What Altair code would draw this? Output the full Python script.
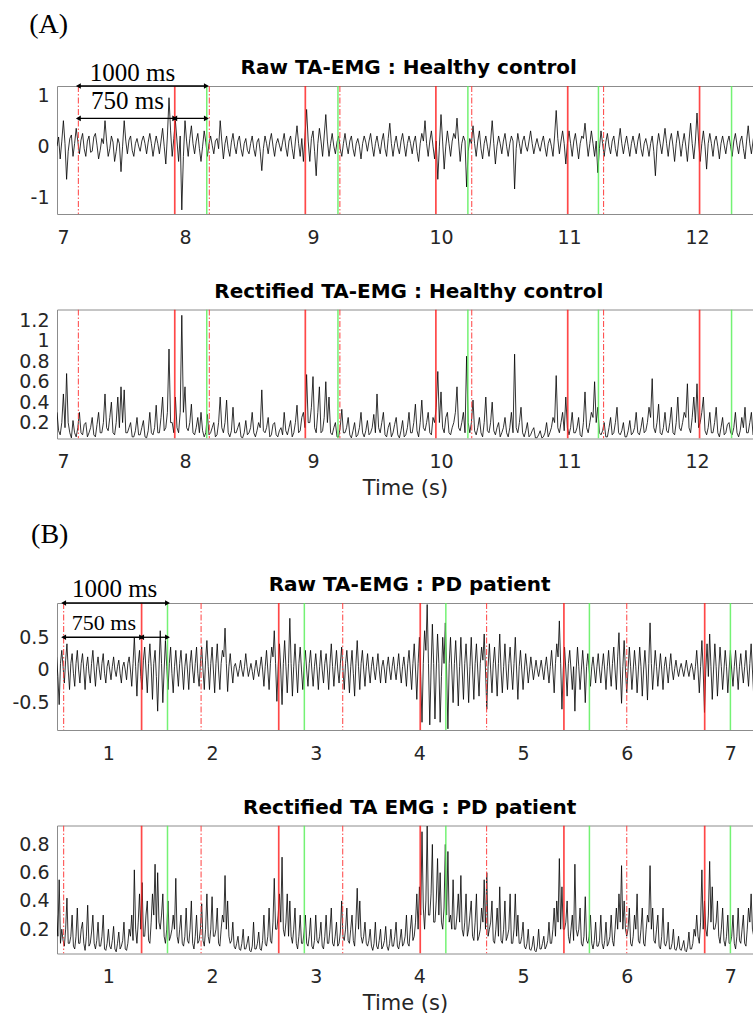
import altair as alt
import pandas as pd

# ---------------- data ----------------
# (A) healthy control, one value every 12.5 ms from 7.0 s
A_T0, A_DT = 7.0, 0.0125
A_RAW = [
    0.0, 0.18, -0.25, 0.1, 0.5, 0.05, -0.65, -0.1, 0.15, 0.22, -0.2, 0.05, 0.35, 0.1, -0.15, 0.12, 0.25, -0.05, -0.2, 0.1,
    0.2, -0.12, -0.1, 0.18, 0.25, 0.02, -0.25, -0.08, 0.15, 0.05, 0.5, 0.1, -0.2, -0.05, 0.2, 0.08, -0.3, -0.1, 0.15, 0.05,
    -0.5, 0.0, 0.5, 0.1, -0.15, 0.12, 0.2, -0.08, -0.2, 0.05, 0.15, 0.0, -0.1, 0.1, 0.2, 0.05, -0.15, 0.08, 0.25, 0.05,
    -0.2, 0.02, 0.2, 0.05, -0.15, 0.1, 0.35, 0.0, -0.35, 0.2, 0.95, 0.3, -0.2, 0.15, 0.5, 0.1, -0.3, 0.2, -1.25, -0.2,
    0.5, 0.1, -0.2, 0.15, 0.4, 0.05, -0.15, 0.1, 0.25, -0.05, -0.3, 0.0, 0.3, 0.08, -0.2, 0.05, 0.2, 0.02, -0.15, 0.1,
    0.15, -0.05, 0.5, 0.1, -0.25, 0.05, 0.2, -0.05, -0.2, 0.08, 0.25, 0.0, -0.15, 0.1, 0.2, -0.05, -0.2, 0.05, 0.15, -0.08,
    -0.15, 0.05, 0.2, -0.05, -0.2, 0.08, 0.15, -0.1, -0.48, -0.05, 0.2, 0.05, -0.15, 0.1, 0.25, 0.0, -0.2, 0.05, 0.15, 0.02,
    -0.1, 0.08, 0.25, -0.02, -0.2, 0.1, 0.2, -0.05, -0.25, 0.1, 0.4, 0.05, -0.2, 0.15, -0.3, 0.2, 0.72, 0.1, -0.3, 0.15,
    0.3, -0.1, -0.58, 0.05, 0.35, 0.1, -0.2, 0.2, 0.62, 0.1, -0.2, 0.05, 0.25, 0.0, -0.15, 0.08, 0.2, -0.05, -0.2, 0.05,
    0.25, 0.02, -0.15, 0.1, 0.2, -0.05, -0.2, 0.05, 0.15, 0.0, -0.25, 0.05, 0.2, 0.08, -0.1, 0.1, 0.25, 0.0, -0.2, 0.05,
    0.2, 0.0, -0.15, 0.1, 0.25, -0.05, -0.2, 0.15, 0.45, 0.05, -0.2, 0.05, 0.2, -0.02, -0.15, 0.1, 0.25, 0.02, -0.2, 0.05,
    0.2, 0.05, -0.15, 0.08, 0.2, -0.1, -0.3, 0.05, 0.25, 0.1, 0.5, 0.05, -0.2, 0.1, 0.3, 0.0, -0.25, 0.1, -0.65, 0.0,
    0.62, 0.1, -0.45, 0.0, 0.3, 0.05, -0.2, 0.1, 0.25, 0.15, 0.55, 0.1, -0.3, 0.05, 0.2, 0.1, -0.8, -0.1, 0.15, 0.05,
    0.4, 0.05, -0.2, 0.1, 0.3, -0.05, -0.25, 0.05, 0.2, 0.0, -0.2, 0.1, 0.5, 0.05, -0.35, 0.0, 0.2, 0.05, -0.15, 0.1,
    0.25, 0.0, -0.2, 0.05, 0.2, 0.1, -0.84, -0.05, 0.25, 0.05, -0.15, 0.1, 0.2, 0.0, -0.1, 0.1, 0.3, 0.05, -0.15, 0.02,
    0.15, 0.0, -0.1, 0.08, 0.2, -0.02, -0.2, 0.05, 0.15, 0.0, -0.2, 0.2, 0.7, 0.15, -0.15, 0.1, 0.3, 0.05, -0.35, 0.05,
    0.3, 0.05, -0.2, 0.1, 0.25, 0.0, -0.25, 0.05, 0.2, 0.15, 0.45, 0.1, -0.2, 0.05, 0.3, 0.05, -0.2, 0.1, -0.52, -0.05,
    0.3, 0.05, -0.2, 0.08, 0.25, 0.0, -0.15, 0.1, 0.2, -0.05, -0.2, 0.1, 0.35, 0.05, -0.15, 0.05, 0.2, 0.0, -0.2, 0.05,
    0.2, 0.02, -0.15, 0.1, 0.25, -0.05, -0.2, 0.05, 0.15, 0.0, -0.2, 0.05, 0.2, -0.1, -0.58, 0.0, 0.25, 0.05, -0.15, 0.1,
    0.35, 0.05, -0.2, 0.1, 0.25, 0.0, -0.3, 0.05, 0.3, 0.1, -0.2, 0.05, 0.25, 0.0, -0.3, 0.1, 0.45, 0.05, -0.25, 0.1,
    0.65, 0.1, -0.3, 0.05, 0.3, 0.0, -0.45, 0.05, 0.25, 0.05, -0.2, 0.1, 0.2, 0.0, -0.25, 0.05, 0.2, 0.02, -0.15, 0.08,
    0.2, 0.0, -0.2, 0.1, 0.25, 0.02, -0.15, 0.1, 0.2, -0.05, -0.25, 0.1, 0.4, 0.05, -0.15, 0.1, 0.3, 0.0, -0.2, 0.05,
    0.15,
]
A_RECT = [
    0.3, 0.12, 0.08, 0.2, 0.48, 0.15, 0.68, 0.2, 0.1, 0.05, 0.22, 0.1, 0.06, 0.15, 0.3, 0.1, 0.08, 0.18, 0.2, 0.06,
    0.1, 0.15, 0.25, 0.08, 0.06, 0.18, 0.3, 0.1, 0.1, 0.2, 0.48, 0.15, 0.12, 0.25, 0.4, 0.1, 0.08, 0.2, 0.45, 0.15,
    0.55, 0.2, 0.52, 0.1, 0.1, 0.15, 0.2, 0.06, 0.06, 0.12, 0.25, 0.08, 0.08, 0.15, 0.22, 0.06, 0.05, 0.12, 0.3, 0.1,
    0.08, 0.15, 0.37, 0.1, 0.1, 0.25, 0.45, 0.12, 0.15, 0.3, 0.92, 0.2, 0.2, 0.1, 0.45, 0.15, 0.1, 0.3, 1.25, 0.3,
    0.55, 0.15, 0.12, 0.2, 0.38, 0.1, 0.08, 0.15, 0.25, 0.1, 0.3, 0.12, 0.06, 0.1, 0.28, 0.08, 0.1, 0.15, 0.2, 0.06,
    0.08, 0.2, 0.45, 0.15, 0.1, 0.2, 0.42, 0.1, 0.06, 0.12, 0.35, 0.1, 0.1, 0.15, 0.2, 0.06, 0.05, 0.1, 0.22, 0.08,
    0.1, 0.15, 0.3, 0.1, 0.06, 0.12, 0.2, 0.15, 0.52, 0.12, 0.1, 0.15, 0.25, 0.06, 0.08, 0.18, 0.2, 0.08, 0.06, 0.12,
    0.15, 0.08, 0.3, 0.12, 0.08, 0.15, 0.22, 0.06, 0.1, 0.2, 0.37, 0.1, 0.12, 0.25, 0.3, 0.15, 0.67, 0.2, 0.2, 0.35,
    0.65, 0.15, 0.1, 0.3, 0.55, 0.1, 0.12, 0.25, 0.6, 0.2, 0.45, 0.1, 0.08, 0.15, 0.2, 0.06, 0.06, 0.15, 0.33, 0.1,
    0.1, 0.15, 0.25, 0.08, 0.05, 0.12, 0.2, 0.06, 0.08, 0.15, 0.3, 0.1, 0.06, 0.12, 0.22, 0.08, 0.1, 0.15, 0.28, 0.1,
    0.48, 0.15, 0.1, 0.2, 0.3, 0.08, 0.06, 0.15, 0.2, 0.06, 0.1, 0.18, 0.25, 0.08, 0.05, 0.12, 0.22, 0.06, 0.08, 0.15,
    0.3, 0.1, 0.1, 0.2, 0.38, 0.12, 0.06, 0.2, 0.42, 0.15, 0.12, 0.2, 0.3, 0.1, 0.08, 0.25, 0.2, 0.35, 0.7, 0.2,
    0.5, 0.15, 0.1, 0.25, 0.3, 0.1, 0.08, 0.15, 0.2, 0.3, 0.55, 0.15, 0.12, 0.2, 0.3, 0.1, 0.85, 0.2, 0.1, 0.2,
    0.42, 0.12, 0.08, 0.15, 0.25, 0.1, 0.06, 0.2, 0.45, 0.12, 0.1, 0.2, 0.4, 0.12, 0.08, 0.15, 0.2, 0.06, 0.1, 0.15,
    0.25, 0.1, 0.06, 0.15, 0.3, 0.1, 0.87, 0.15, 0.1, 0.2, 0.35, 0.1, 0.06, 0.12, 0.2, 0.06, 0.08, 0.12, 0.15, 0.05,
    0.05, 0.08, 0.12, 0.05, 0.06, 0.1, 0.2, 0.06, 0.1, 0.15, 0.25, 0.2, 0.66, 0.15, 0.1, 0.2, 0.3, 0.12, 0.45, 0.15,
    0.08, 0.15, 0.3, 0.1, 0.1, 0.15, 0.25, 0.08, 0.06, 0.2, 0.5, 0.15, 0.1, 0.2, 0.3, 0.25, 0.6, 0.2, 0.35, 0.1,
    0.08, 0.12, 0.2, 0.06, 0.06, 0.15, 0.25, 0.08, 0.1, 0.2, 0.35, 0.1, 0.08, 0.12, 0.2, 0.06, 0.06, 0.12, 0.22, 0.08,
    0.1, 0.15, 0.3, 0.1, 0.08, 0.15, 0.25, 0.1, 0.12, 0.2, 0.35, 0.25, 0.63, 0.15, 0.1, 0.2, 0.38, 0.1, 0.08, 0.15,
    0.3, 0.12, 0.1, 0.2, 0.35, 0.1, 0.08, 0.2, 0.45, 0.15, 0.12, 0.2, 0.3, 0.25, 0.58, 0.15, 0.1, 0.25, 0.45, 0.2,
    0.58, 0.15, 0.2, 0.3, 0.45, 0.12, 0.08, 0.15, 0.3, 0.1, 0.1, 0.2, 0.35, 0.1, 0.06, 0.15, 0.25, 0.08, 0.1, 0.18,
    0.2, 0.1, 0.08, 0.15, 0.3, 0.1, 0.06, 0.12, 0.25, 0.15, 0.35, 0.1, 0.1, 0.2, 0.3, 0.08, 0.06, 0.12, 0.2, 0.1,
    0.12,
]

# (B) PD patient, one value every 12.5 ms from 0.5 s
B_T0, B_DT = 0.5, 0.0125
B_RAW = [
    0.2, -0.1, -0.53, 0.1, 0.3, 0.05, -0.2, 0.15, 0.4, 0.0, -0.3, 0.1, 0.25, -0.05, -0.25, 0.1, 0.3, 0.0, -0.2, 0.1,
    0.25, 0.0, -0.3, 0.05, 0.2, -0.05, -0.2, 0.1, 0.3, 0.0, -0.25, 0.05, 0.2, 0.0, -0.15, 0.1, 0.25, -0.05, -0.2, 0.05,
    0.15, 0.0, -0.15, 0.05, 0.2, 0.0, -0.1, 0.05, 0.15, -0.05, -0.2, 0.05, 0.12, 0.0, -0.15, 0.1, 0.2, 0.0, -0.25, 0.1,
    0.5, 0.05, -0.4, 0.1, 0.3, -0.1, -0.3, 0.15, 0.35, 0.0, -0.35, 0.1, 0.4, 0.05, -0.45, 0.1, 0.3, -0.1, -0.63, 0.0,
    0.6, 0.1, -0.5, 0.0, 0.45, 0.05, -0.3, 0.1, 0.35, -0.05, -0.35, 0.05, 0.3, 0.0, -0.25, 0.1, 0.3, 0.0, -0.3, 0.05,
    0.25, 0.0, -0.3, 0.1, 0.3, 0.0, -0.2, 0.1, 0.35, -0.05, -0.25, 0.1, 0.35, 0.0, -0.3, 0.15, 0.45, 0.05, -0.3, 0.1,
    0.35, 0.0, -0.35, 0.1, 0.4, 0.0, -0.3, 0.1, 0.3, 0.2, 0.64, 0.1, -0.33, 0.05, 0.25, 0.0, -0.2, 0.05, 0.1, 0.0,
    -0.1, 0.02, 0.15, 0.0, -0.1, 0.05, 0.25, 0.05, -0.1, 0.0, 0.1, -0.02, -0.15, 0.02, 0.15, 0.0, -0.1, 0.05, 0.2, 0.0,
    -0.25, 0.05, 0.3, 0.0, -0.3, 0.1, 0.35, 0.2, 0.6, 0.1, -0.48, 0.05, 0.4, 0.0, -0.53, 0.1, 0.45, 0.05, -0.35, 0.1,
    0.79, 0.1, -0.4, 0.05, 0.4, 0.0, -0.35, 0.1, 0.35, 0.0, -0.3, 0.05, 0.3, 0.0, -0.25, 0.1, 0.3, 0.0, -0.25, 0.05,
    0.25, 0.0, -0.3, 0.05, 0.3, 0.0, -0.2, 0.1, 0.25, 0.0, -0.3, 0.1, 0.4, 0.05, -0.25, 0.05, 0.3, 0.0, -0.2, 0.1,
    0.35, 0.0, -0.3, 0.1, 0.3, 0.0, -0.35, 0.05, 0.3, -0.05, -0.4, 0.1, 0.45, 0.05, -0.3, 0.1, 0.3, 0.0, -0.25, 0.05,
    0.25, 0.0, -0.2, 0.05, 0.2, 0.0, -0.15, 0.05, 0.25, 0.0, -0.2, 0.05, 0.15, 0.0, -0.2, 0.05, 0.2, 0.0, -0.15, 0.05,
    0.2, 0.0, -0.15, 0.05, 0.25, 0.0, -0.2, 0.05, 0.2, 0.0, -0.25, 0.1, 0.3, 0.0, -0.3, 0.1, 0.4, 0.0, -0.45, 0.1,
    0.5, -0.1, -0.8, 0.1, 0.6, 0.3, 1.0, 0.1, -0.84, 0.0, 0.7, 0.1, -0.75, 0.0, 0.55, 0.1, -0.8, -0.1, 0.5, 0.1,
    0.72, 0.0, -0.9, 0.1, 0.5, 0.0, -0.5, 0.1, 0.45, 0.0, -0.55, 0.05, 0.5, 0.0, -0.45, 0.1, 0.4, 0.0, -0.5, 0.05,
    0.5, 0.0, -0.45, 0.1, 0.4, 0.0, -0.4, 0.1, 0.35, 0.15, 0.55, 0.0, -0.6, 0.05, 0.4, 0.0, -0.35, 0.1, 0.35, 0.0,
    -0.4, 0.1, 0.55, 0.0, -0.35, 0.05, 0.4, 0.0, -0.3, 0.1, 0.35, 0.0, -0.3, 0.1, 0.5, 0.0, -0.45, 0.05, 0.3, 0.0,
    -0.3, 0.0, 0.25, 0.05, -0.2, 0.0, 0.2, 0.02, -0.15, 0.0, 0.15, 0.0, -0.1, 0.02, 0.15, 0.0, -0.15, 0.05, 0.2, 0.0,
    -0.2, 0.05, 0.3, 0.0, -0.35, 0.1, 0.4, 0.2, 0.75, 0.1, -0.6, 0.0, 0.35, 0.0, -0.4, 0.1, 0.3, 0.0, -0.3, 0.05,
    -0.63, 0.0, 0.35, 0.05, -0.3, 0.0, 0.3, 0.0, -0.5, 0.05, 0.25, 0.0, -0.25, 0.05, 0.2, 0.0, -0.2, 0.05, 0.25, 0.0,
    -0.2, 0.05, 0.25, 0.0, -0.3, 0.05, 0.3, 0.0, -0.25, 0.1, 0.35, 0.0, -0.3, 0.2, 0.57, 0.0, -0.51, 0.05, 0.45, 0.0,
    -0.35, 0.0, 0.35, 0.05, -0.3, 0.0, 0.3, 0.05, -0.35, 0.0, 0.35, 0.05, -0.4, 0.0, 0.3, 0.0, -0.46, 0.1, 0.72, 0.1,
    -0.3, 0.0, 0.3, 0.05, -0.25, 0.0, 0.25, 0.0, -0.3, 0.05, 0.2, 0.0, -0.2, 0.05, 0.25, 0.0, -0.15, 0.02, 0.15, 0.0,
    -0.1, 0.02, 0.1, 0.0, -0.1, 0.02, 0.15, 0.0, -0.1, 0.02, 0.1, 0.0, -0.15, 0.05, 0.3, 0.0, -0.35, 0.05, 0.45, 0.0,
    -0.65, 0.0, 0.4, -0.1, 0.55, 0.05, -0.45, 0.0, 0.4, 0.05, -0.4, 0.0, 0.35, 0.05, -0.3, 0.0, 0.3, 0.05, -0.35, 0.0,
    0.3, 0.0, -0.25, 0.05, 0.3, 0.0, -0.3, 0.05, 0.25, 0.0, -0.2, 0.05, 0.3, 0.0, -0.25, 0.1, 0.4, 0.0, -0.4, 0.05,
    0.3, 0.05, -0.3, 0.1, 0.2,
]
B_RECT = [
    0.3, 0.15, 0.55, 0.1, 0.2, 0.12, 0.08, 0.2, 0.42, 0.1, 0.1, 0.15, 0.3, 0.08, 0.06, 0.15, 0.35, 0.1, 0.1, 0.2,
    0.25, 0.1, 0.05, 0.15, 0.37, 0.08, 0.1, 0.18, 0.3, 0.1, 0.06, 0.12, 0.25, 0.08, 0.08, 0.15, 0.3, 0.06, 0.05, 0.1,
    0.2, 0.08, 0.06, 0.12, 0.22, 0.06, 0.04, 0.1, 0.18, 0.06, 0.08, 0.12, 0.25, 0.06, 0.05, 0.1, 0.2, 0.15, 0.3, 0.12,
    0.62, 0.2, 0.1, 0.25, 0.45, 0.2, 0.53, 0.15, 0.15, 0.3, 0.4, 0.12, 0.1, 0.25, 0.45, 0.3, 0.66, 0.2, 0.6, 0.25,
    0.2, 0.3, 0.45, 0.15, 0.1, 0.2, 0.4, 0.12, 0.15, 0.2, 0.3, 0.2, 0.56, 0.15, 0.1, 0.2, 0.3, 0.1, 0.08, 0.15,
    0.35, 0.12, 0.1, 0.2, 0.4, 0.1, 0.06, 0.15, 0.3, 0.1, 0.12, 0.2, 0.38, 0.12, 0.08, 0.2, 0.45, 0.15, 0.1, 0.2,
    0.43, 0.15, 0.15, 0.2, 0.35, 0.1, 0.08, 0.2, 0.3, 0.25, 0.58, 0.2, 0.4, 0.15, 0.1, 0.12, 0.25, 0.08, 0.06, 0.1,
    0.15, 0.06, 0.05, 0.1, 0.2, 0.06, 0.06, 0.1, 0.15, 0.05, 0.04, 0.08, 0.25, 0.06, 0.06, 0.1, 0.18, 0.06, 0.05, 0.12,
    0.3, 0.1, 0.08, 0.15, 0.35, 0.12, 0.1, 0.25, 0.56, 0.2, 0.2, 0.3, 0.45, 0.25, 0.71, 0.2, 0.15, 0.25, 0.45, 0.15,
    0.4, 0.15, 0.1, 0.2, 0.35, 0.1, 0.06, 0.15, 0.3, 0.1, 0.1, 0.18, 0.3, 0.1, 0.08, 0.15, 0.28, 0.08, 0.06, 0.12,
    0.3, 0.12, 0.1, 0.15, 0.25, 0.08, 0.06, 0.15, 0.3, 0.1, 0.1, 0.2, 0.35, 0.1, 0.08, 0.15, 0.25, 0.08, 0.1, 0.18,
    0.4, 0.15, 0.12, 0.2, 0.35, 0.12, 0.1, 0.2, 0.3, 0.12, 0.08, 0.25, 0.49, 0.2, 0.4, 0.15, 0.1, 0.15, 0.25, 0.1,
    0.08, 0.12, 0.2, 0.08, 0.05, 0.1, 0.25, 0.08, 0.06, 0.12, 0.2, 0.06, 0.08, 0.12, 0.22, 0.08, 0.05, 0.1, 0.2, 0.08,
    0.08, 0.15, 0.25, 0.08, 0.06, 0.12, 0.2, 0.08, 0.1, 0.15, 0.3, 0.1, 0.08, 0.2, 0.3, 0.12, 0.15, 0.25, 0.45, 0.2,
    0.5, 0.3, 0.89, 0.35, 0.2, 0.4, 0.93, 0.3, 0.3, 0.45, 0.8, 0.25, 0.25, 0.4, 0.7, 0.3, 0.6, 0.25, 0.2, 0.35,
    0.8, 0.3, 0.75, 0.25, 0.3, 0.2, 0.55, 0.2, 0.2, 0.3, 0.45, 0.25, 0.58, 0.2, 0.15, 0.25, 0.45, 0.15, 0.2, 0.3,
    0.4, 0.15, 0.12, 0.25, 0.45, 0.12, 0.15, 0.2, 0.35, 0.25, 0.55, 0.2, 0.6, 0.15, 0.2, 0.25, 0.4, 0.12, 0.1, 0.2,
    0.35, 0.15, 0.5, 0.12, 0.1, 0.2, 0.4, 0.12, 0.15, 0.2, 0.45, 0.1, 0.1, 0.2, 0.45, 0.15, 0.3, 0.1, 0.1, 0.15,
    0.25, 0.08, 0.06, 0.1, 0.2, 0.06, 0.05, 0.08, 0.15, 0.05, 0.04, 0.08, 0.2, 0.06, 0.06, 0.1, 0.15, 0.06, 0.08, 0.12,
    0.25, 0.1, 0.1, 0.2, 0.35, 0.15, 0.4, 0.25, 0.7, 0.2, 0.5, 0.2, 0.2, 0.25, 0.4, 0.15, 0.1, 0.2, 0.3, 0.12,
    0.66, 0.2, 0.15, 0.2, 0.35, 0.1, 0.08, 0.15, 0.43, 0.12, 0.1, 0.15, 0.3, 0.1, 0.06, 0.12, 0.25, 0.08, 0.08, 0.12,
    0.3, 0.1, 0.06, 0.12, 0.25, 0.08, 0.1, 0.15, 0.3, 0.12, 0.08, 0.2, 0.35, 0.2, 0.45, 0.25, 0.65, 0.2, 0.4, 0.2,
    0.15, 0.2, 0.35, 0.1, 0.08, 0.15, 0.3, 0.2, 0.45, 0.12, 0.1, 0.2, 0.35, 0.1, 0.08, 0.2, 0.3, 0.25, 0.65, 0.2,
    0.35, 0.12, 0.1, 0.2, 0.3, 0.08, 0.06, 0.15, 0.35, 0.1, 0.08, 0.12, 0.25, 0.06, 0.06, 0.1, 0.2, 0.06, 0.05, 0.08,
    0.15, 0.06, 0.05, 0.08, 0.12, 0.05, 0.04, 0.08, 0.18, 0.06, 0.06, 0.1, 0.2, 0.15, 0.3, 0.15, 0.1, 0.25, 0.62, 0.2,
    0.4, 0.2, 0.15, 0.3, 0.68, 0.25, 0.5, 0.2, 0.2, 0.25, 0.4, 0.15, 0.1, 0.2, 0.35, 0.12, 0.08, 0.15, 0.3, 0.1,
    0.1, 0.15, 0.3, 0.1, 0.06, 0.15, 0.35, 0.12, 0.1, 0.2, 0.3, 0.1, 0.08, 0.2, 0.35, 0.25, 0.45, 0.2, 0.15, 0.2,
    0.3, 0.12, 0.1, 0.15, 0.25,
]

# event markers (s)
A_RED_SOLID = [7.92, 8.94, 9.96, 10.99, 12.02]
A_GREEN = [8.17, 9.195, 10.21, 11.23, 12.27]
A_RED_DASH = [7.167, 8.19, 9.21, 10.24, 11.27]
B_RED_SOLID = [1.32, 2.643, 4.008, 5.394, 6.752]
B_GREEN = [1.57, 2.89, 4.255, 5.64, 7.0]
B_RED_DASH = [0.568, 1.894, 3.26, 4.648, 6.0]

# axes
A_XDOM = [7.0, 12.4375]
B_XDOM = [0.504, 7.218]
A_XTICKS = [7, 8, 9, 10, 11, 12]
B_XTICKS = [1, 2, 3, 4, 5, 6, 7]
A_RAW_YDOM = [-1.33, 1.18]
A_RECT_YDOM = [0.044, 1.307]
B_RAW_YDOM = [-0.918, 1.024]
B_RECT_YDOM = [0.028, 0.934]
A_RAW_YTICKS = [-1, 0, 1]
A_RECT_YTICKS = [0.2, 0.4, 0.6, 0.8, 1.0, 1.2]
B_RAW_YTICKS = [-0.5, 0, 0.5]
B_RECT_YTICKS = [0.2, 0.4, 0.6, 0.8]

TITLES = ["Raw TA-EMG : Healthy control", "Rectified TA-EMG : Healthy control",
          "Raw TA-EMG : PD patient", "Rectified TA EMG : PD patient"]
# title anchor positions (data units of each panel)
TITLE_X = [9.748, 9.748, 3.906, 3.906]
TITLE_Y = [1.423, 1.421, 1.201, 1.017]
X_TITLE = "Time (s)"
PANEL_LABELS = ["(A)", "(B)"]
ANNOT = ["1000 ms", "750 ms"]

# annotation anchors (data units)
A_ARROW_X1 = [7.167, 7.167, 7.92]
A_ARROW_X2 = [8.167, 7.92, 8.167]
A_ARROW_Y = [1.18, 0.545, 0.545]
A_TEXT_X = [7.59, 7.55]
A_TEXT_Y = [1.44, 0.88]
A_TEXT_SIZE = [25, 25]
A_LABEL_XY = [6.935, 2.37]

B_ARROW_X1 = [0.568, 0.568, 1.32]
B_ARROW_X2 = [1.57, 1.32, 1.57]
B_ARROW_Y = [1.024, 0.5, 0.5]
B_TEXT_X = [1.06, 0.957]
B_TEXT_Y = [1.24, 0.72]
B_TEXT_SIZE = [25, 22]
B_LABEL_XY = [0.434, 2.066]

SANS = "DejaVu Sans"
SERIF = "Liberation Serif"
W = 696


def annotations(x1, x2, y, tx, ty, tsize, label, label_xy):
    def build(xs, ys, yaxis):
        arr = pd.DataFrame({"x1": x1, "x2": x2, "y": y})
        heads = pd.DataFrame({
            "x": list(x1) + list(x2),
            "y": list(y) + list(y),
            "s": ["triangle-left"] * len(x1) + ["triangle-right"] * len(x2),
        })
        txt = pd.DataFrame({"x": tx, "y": ty, "t": ANNOT, "size": tsize})
        lab = pd.DataFrame({"x": [label_xy[0]], "y": [label_xy[1]], "t": [label]})
        rules = alt.Chart(arr).mark_rule(color="black", strokeWidth=1.3).encode(
            x=alt.X("x1:Q", scale=xs, axis=None), x2="x2:Q",
            y=alt.Y("y:Q", scale=ys, axis=yaxis))
        pts = alt.Chart(heads).mark_point(filled=True, color="black", size=32, opacity=1).encode(
            x=alt.X("x:Q", scale=xs, axis=None), y=alt.Y("y:Q", scale=ys, axis=yaxis),
            shape=alt.Shape("s:N", scale=None))
        texts = alt.Chart(txt).mark_text(font=SERIF, color="black", baseline="middle").encode(
            x=alt.X("x:Q", scale=xs, axis=None), y=alt.Y("y:Q", scale=ys, axis=yaxis),
            text="t:N", size=alt.Size("size:Q", scale=None))
        plab = alt.Chart(lab).mark_text(font=SERIF, fontSize=28, color="black", baseline="middle").encode(
            x=alt.X("x:Q", scale=xs, axis=None), y=alt.Y("y:Q", scale=ys, axis=yaxis), text="t:N")
        return [rules, pts, texts, plab]
    return build


def panel(idx, t0, dt, vals, xdom, ydom, xticks, yticks, rs, gr, rd, height,
          xtitle, xtitle_size, xtitle_pad, extra=None):
    df = pd.DataFrame({"t": [round(t0 + dt * i, 5) for i in range(len(vals))], "v": vals})
    xs = alt.Scale(domain=xdom, nice=False, zero=False)
    ys = alt.Scale(domain=ydom, nice=False, zero=False)
    xaxis = alt.Axis(orient="bottom", values=xticks, labelPadding=14, title=xtitle,
                     titleFontSize=xtitle_size, titlePadding=xtitle_pad, titleFont=SANS,
                     titleFontWeight="normal", titleColor="#262626")
    yaxis = alt.Axis(values=yticks, format="~g", labelPadding=8, title=None,
                     labelExpr="replace(datum.label, '\u2212', '-')")
    line = alt.Chart(df).mark_line(color="black", strokeWidth=0.8, clip=True).encode(
        x=alt.X("t:Q", scale=xs, axis=xaxis), y=alt.Y("v:Q", scale=ys, axis=yaxis))
    top_axis = alt.Axis(orient="top", labels=False, title=None)
    r1 = alt.Chart(pd.DataFrame({"t": rs})).mark_rule(
        color="#ff1a1a", strokeWidth=1.7, opacity=0.8, clip=True).encode(
        x=alt.X("t:Q", scale=xs, axis=top_axis))
    r2 = alt.Chart(pd.DataFrame({"t": gr})).mark_rule(
        color="#5cf05c", strokeWidth=1.5, opacity=0.85, clip=True).encode(
        x=alt.X("t:Q", scale=xs, axis=None))
    r3 = alt.Chart(pd.DataFrame({"t": rd})).mark_rule(
        color="#ff4040", strokeWidth=1.1, opacity=0.9, strokeDash=[6, 2, 1.5, 2], clip=True).encode(
        x=alt.X("t:Q", scale=xs, axis=None))
    ttl = alt.Chart(pd.DataFrame({"x": [TITLE_X[idx]], "y": [TITLE_Y[idx]], "t": [TITLES[idx]]})).mark_text(
        font=SANS, fontSize=20, fontWeight="bold", color="black", baseline="alphabetic", align="center").encode(
        x=alt.X("x:Q", scale=xs, axis=None), y=alt.Y("y:Q", scale=ys, axis=yaxis), text="t:N")
    layers = [line, r1, r2, r3, ttl]
    if extra is not None:
        layers += extra(xs, ys, yaxis)
    return alt.layer(*layers).resolve_axis(x="independent").properties(width=W, height=height)


a1 = panel(0, A_T0, A_DT, A_RAW, A_XDOM, A_RAW_YDOM, A_XTICKS, A_RAW_YTICKS,
           A_RED_SOLID, A_GREEN, A_RED_DASH, 128, " ", 10, 2.5,
           annotations(A_ARROW_X1, A_ARROW_X2, A_ARROW_Y, A_TEXT_X, A_TEXT_Y, A_TEXT_SIZE,
                       PANEL_LABELS[0], A_LABEL_XY))
a2 = panel(1, A_T0, A_DT, A_RECT, A_XDOM, A_RECT_YDOM, A_XTICKS, A_RECT_YTICKS,
           A_RED_SOLID, A_GREEN, A_RED_DASH, 129, X_TITLE, 21, 5.5)
b1 = panel(2, B_T0, B_DT, B_RAW, B_XDOM, B_RAW_YDOM, B_XTICKS, B_RAW_YTICKS,
           B_RED_SOLID, B_GREEN, B_RED_DASH, 127, " ", 10, 2.2,
           annotations(B_ARROW_X1, B_ARROW_X2, B_ARROW_Y, B_TEXT_X, B_TEXT_Y, B_TEXT_SIZE,
                       PANEL_LABELS[1], B_LABEL_XY))
b2 = panel(3, B_T0, B_DT, B_RECT, B_XDOM, B_RECT_YDOM, B_XTICKS, B_RECT_YTICKS,
           B_RED_SOLID, B_GREEN, B_RED_DASH, 128, X_TITLE, 21, 5.5)

chart = alt.vconcat(a1, a2, b1, b2, spacing=21.5).properties(
    padding={"left": 11, "top": 11, "right": 0, "bottom": 0},
    background="white",
).configure_view(strokeWidth=0).configure_axis(
    labelFont=SANS, labelFontSize=19, labelColor="#262626",
    domainColor="#8c8c8c", domainWidth=1, ticks=False, tickSize=0, grid=False,
)

chart.save("out.html", embed_options={"renderer": "svg", "actions": False})
